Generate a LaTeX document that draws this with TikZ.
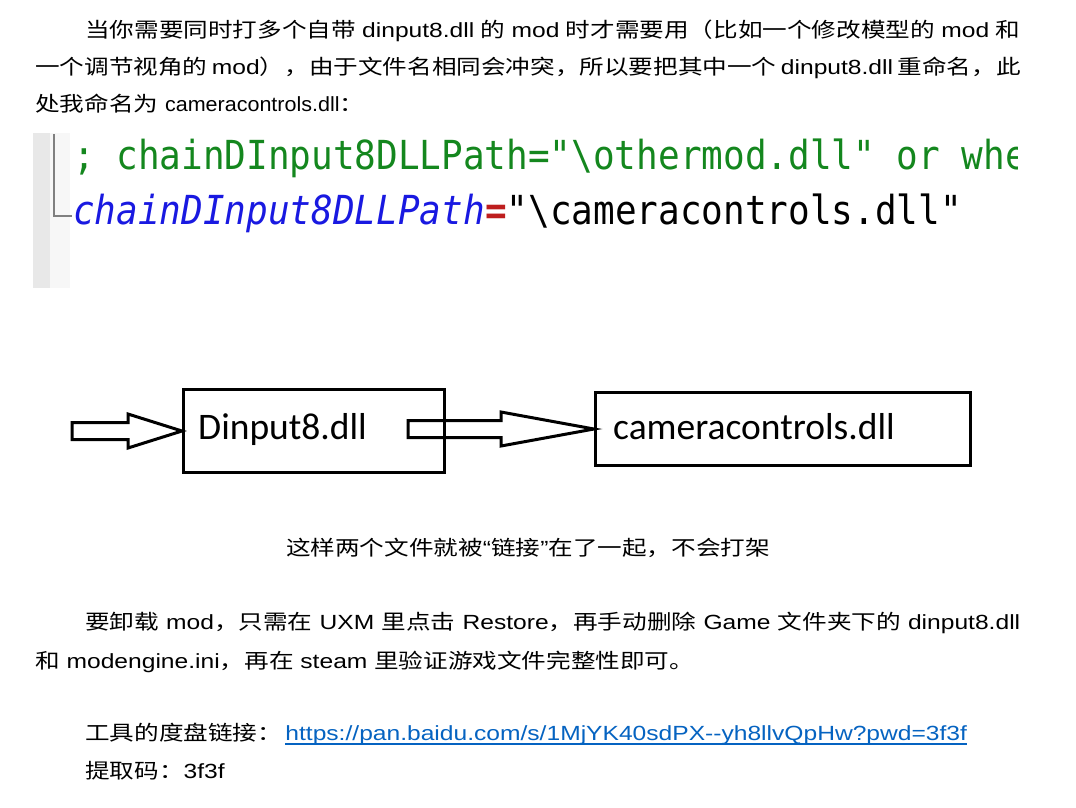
\documentclass[tikz,border=0pt]{standalone}
\usepackage{fontspec}
\usetikzlibrary{calc}
\newfontfamily\zhfont[FakeStretch=1.2]{Noto Sans CJK SC}
\newfontfamily\lsfont[FakeStretch=1.2]{Liberation Sans}
\newfontfamily\lsnarrow[FakeStretch=1.05]{Liberation Sans}
\newfontfamily\cbfont{Carlito}
\newfontfamily\monofont[FakeStretch=0.9]{DejaVu Sans Mono}
\newcommand\zhs[1]{{\zhfont #1}}
\definecolor{codegreen}{RGB}{20,135,30}
\definecolor{codeblue}{RGB}{25,25,225}
\definecolor{codered}{RGB}{190,30,30}
\definecolor{urlblue}{RGB}{5,99,193}
\definecolor{gutter}{RGB}{232,232,232}
\begin{document}
\begin{tikzpicture}[x=1pt,y=-1pt,
  txt/.style={inner sep=0pt,anchor=base west,font=\lsfont\fontsize{20.5}{26}\selectfont},
  code/.style={inner sep=0pt,anchor=base west,font=\monofont\fontsize{40}{44}\selectfont},
  boxlbl/.style={inner sep=0pt,anchor=base west,font=\cbfont\fontsize{37.5}{42}\selectfont},
  filebox/.style={draw,line width=3pt,inner sep=0pt},
  blockarrow/.style={draw,line width=3pt,line join=miter}]
\useasboundingbox (0,0) rectangle (1076,807);
\fill[white] (0,0) rectangle (1076,807);

% paragraph 1
\node[txt] (p1a) at (85,37) {\makebox[935pt][s]{\zhs{当你需要同时打多个自带} dinput8.dll \zhs{的} mod \zhs{时才需要用（比如一个修改模型的} mod \zhs{和}}};
\node[txt] (p1b) at (35,74) {\makebox[985pt][s]{\zhs{一个调节视角的} mod\zhs{），由于文件名相同会冲突，所以要把其中一个} dinput8.dll \zhs{重命名，此}}};
\node[txt] (p1c) at (35,111) {\zhs{处我命名为} {\lsnarrow cameracontrols.dll}\zhs{：}};

% code block
\fill[gutter] (33,133) rectangle (70,288);
\fill[gray!6] (50,133) rectangle (70,288);
\begin{scope}
\clip (33,133) rectangle (1017,290);
\draw[gray,line width=1.3pt] (54,134) -- (54,216) -- (72,216);
\node[code,text=codegreen] (c1) at (73,169) {; chainDInput8DLLPath="\textbackslash othermod.dll" or whe};
\node[code] (c2) at (73,224) {\textcolor{codeblue}{\itshape chainDInput8DLLPath}\textcolor{codered}{\bfseries =}"\textbackslash cameracontrols.dll"};
\end{scope}

% diagram
\node[filebox,minimum width=261pt,minimum height=83pt,anchor=north west] (b1) at (182,388) {};
\node[filebox,minimum width=375pt,minimum height=73pt,anchor=north west] (b2) at (594,391) {};
\node[boxlbl] (t1) at (198,439.5) {Dinput8.dll};
\node[boxlbl] (t2) at (613,439) {cameracontrols.dll};
\draw[blockarrow] ($(b1.west)+(-110,-8.5)$) -- ($(b1.west)+(-54,-8.5)$) -- ($(b1.west)+(-54,-17)$)
  -- (b1.west) -- ($(b1.west)+(-54,17)$) -- ($(b1.west)+(-54,8.5)$) -- ($(b1.west)+(-110,8.5)$) -- cycle;
\draw[blockarrow] ($(b2.west)+(-186,-8.5)$) -- ($(b2.west)+(-93,-8.5)$) -- ($(b2.west)+(-93,-17)$)
  -- (b2.west) -- ($(b2.west)+(-93,17)$) -- ($(b2.west)+(-93,8.5)$) -- ($(b2.west)+(-186,8.5)$) -- cycle;

% caption
\node[txt,anchor=base] (cap) at (528,555) {\zhs{这样两个文件就被}“\zhs{链接}”\zhs{在了一起，不会打架}};

% paragraph 2
\node[txt] (p2a) at (85,629) {\makebox[935pt][s]{\zhs{要卸载} mod\zhs{，只需在} UXM \zhs{里点击} Restore\zhs{，再手动删除} Game \zhs{文件夹下的} dinput8.dll}};
\node[txt] (p2b) at (35,668) {\zhs{和} modengine.ini\zhs{，再在} steam \zhs{里验证游戏文件完整性即可。}};

% paragraph 3
\node[txt] (p3a) at (85,740) {\zhs{工具的度盘链接：}};
\node[txt,text=urlblue] (url) at ($(p3a.base east)+(3,0)$) {https://pan.baidu.com/s/1MjYK40sdPX--yh8llvQpHw?pwd=3f3f};
\draw[urlblue,line width=2pt] ($(url.base west)+(0,4)$) -- ($(url.base east)+(0,4)$);
\node[txt] (p3b) at (85,778) {\zhs{提取码：}3f3f};
\end{tikzpicture}
\end{document}
